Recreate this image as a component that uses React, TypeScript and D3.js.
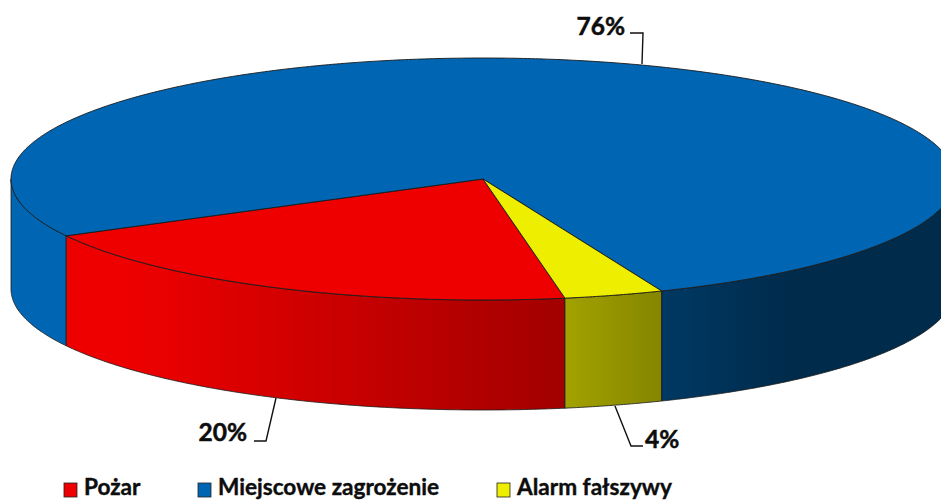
import React from 'react';
import * as d3 from 'd3';

const categories = ['Pożar', 'Miejscowe zagrożenie', 'Alarm fałszywy'];
const values = [20, 76.6, 3.4];
const labels = ['20%', '76%', '4%'];
const colors = ['#ee0000', '#0066b3', '#eeee00'];

const W = 941, H = 500;
const cx = 483, cy = 179, rx = 472, ry = 121, depth = 110;
const rad = Math.PI / 180;
const startDeg = 170;

// brightness of the side wall along x
const shade = d3.scaleLinear().domain([0, 130, 565, 662, 790, 941]).range([1, 1, 0.68, 0.56, 0.42, 0.42]);
const gradStops = [0, 130, 250, 400, 565, 662, 790, 941];

const px = (a: number) => cx + rx * Math.sin(a);
const py = (a: number) => cy - ry * Math.cos(a);

const arcPoints = (a0: number, a1: number): [number, number][] => {
  const n = Math.max(2, Math.ceil(Math.abs(a1 - a0) / (rad * 0.5)));
  return d3.range(n + 1).map(i => {
    const a = a0 + (a1 - a0) * i / n;
    return [px(a), py(a)] as [number, number];
  });
};
const line = d3.line();

const pie = d3.pie<number>().sort(null).startAngle(startDeg * rad).endAngle((startDeg + 360) * rad);
const slices = pie(values);

// front facing part of a slice, the wall only shows between 90 and 270 deg
const visible = (a0: number, a1: number) =>
  [[90, 270], [450, 630]]
    .map(([f0, f1]) => [Math.max(a0, f0 * rad), Math.min(a1, f1 * rad)])
    .filter(([s, e]) => e > s);

const topPath = (a0: number, a1: number) => {
  const pts = arcPoints(a0, a1);
  return line([[cx, cy], ...pts]) + 'Z';
};
const wallPath = (a0: number, a1: number) => {
  const upper = arcPoints(a0, a1);
  const lower = upper.map(([x, y]) => [x, y + depth] as [number, number]).reverse();
  return line([...upper, ...lower]) + 'Z';
};

const walls = slices
  .flatMap(s => visible(s.startAngle, s.endAngle).map(([a0, a1]) => ({ i: s.index, a0, a1 })));
walls.sort((p, q) => Math.min(px(p.a0), px(p.a1)) - Math.min(px(q.a0), px(q.a1)));

const leaders: [number, number][][] = [
  [[276, 398], [266, 441], [254, 441]],
  [[642, 64], [643, 33], [630, 33]],
  [[615, 406], [631, 446], [643, 446]],
];
const labelPos = [
  { x: 247, y: 441, anchor: 'end' },
  { x: 625, y: 35, anchor: 'end' },
  { x: 645, y: 448, anchor: 'start' },
];
const legendX = [64, 198, 497];

const font = 'Lato, Carlito, "Open Sans", sans-serif';

export default function App() {
  return (
    <svg width={W} height={H} viewBox={`0 0 ${W} ${H}`} style={{ position: 'absolute', left: 0, top: 0, background: '#fff' }}>
      <defs>
        {colors.map((c, i) => (
          <linearGradient key={i} id={`side${i}`} gradientUnits="userSpaceOnUse" x1={0} x2={W} y1={0} y2={0}>
            {gradStops.map(x => {
              const rgb = d3.rgb(c);
              const k = shade(x);
              return <stop key={x} offset={x / W} stopColor={d3.rgb(rgb.r * k, rgb.g * k, rgb.b * k).formatHex()} />;
            })}
          </linearGradient>
        ))}
      </defs>

      {walls.map((w, j) => (
        <path key={j} d={wallPath(w.a0, w.a1)} fill={`url(#side${w.i})`} stroke="#1a1a1a" strokeWidth={0.8} strokeLinejoin="round" />
      ))}
      {slices.map(s => (
        <path key={s.index} d={topPath(s.startAngle, s.endAngle)} fill={colors[s.index]} stroke="#1a1a1a" strokeWidth={0.9} strokeLinejoin="round" />
      ))}

      {leaders.map((l, i) => (
        <path key={i} d={line(l) as string} fill="none" stroke="#111" strokeWidth={1.4} />
      ))}
      {labels.map((t, i) => (
        <text key={t} x={labelPos[i].x} y={labelPos[i].y} textAnchor={labelPos[i].anchor as any} fontFamily={font} fontWeight={700} fontSize={24.5} fill="#0d0d0d" stroke="#0d0d0d" strokeWidth={0.5}>{t}</text>
      ))}

      {categories.map((c, i) => (
        <g key={c}>
          <rect x={legendX[i]} y={483} width={13} height={14} fill={colors[i]} stroke="#222" strokeWidth={0.8} />
          <text x={legendX[i] + 20} y={495} fontFamily={font} fontWeight={700} fontSize={22.6} fill="#0d0d0d" stroke="#0d0d0d" strokeWidth={0.4}>{c}</text>
        </g>
      ))}
    </svg>
  );
}
